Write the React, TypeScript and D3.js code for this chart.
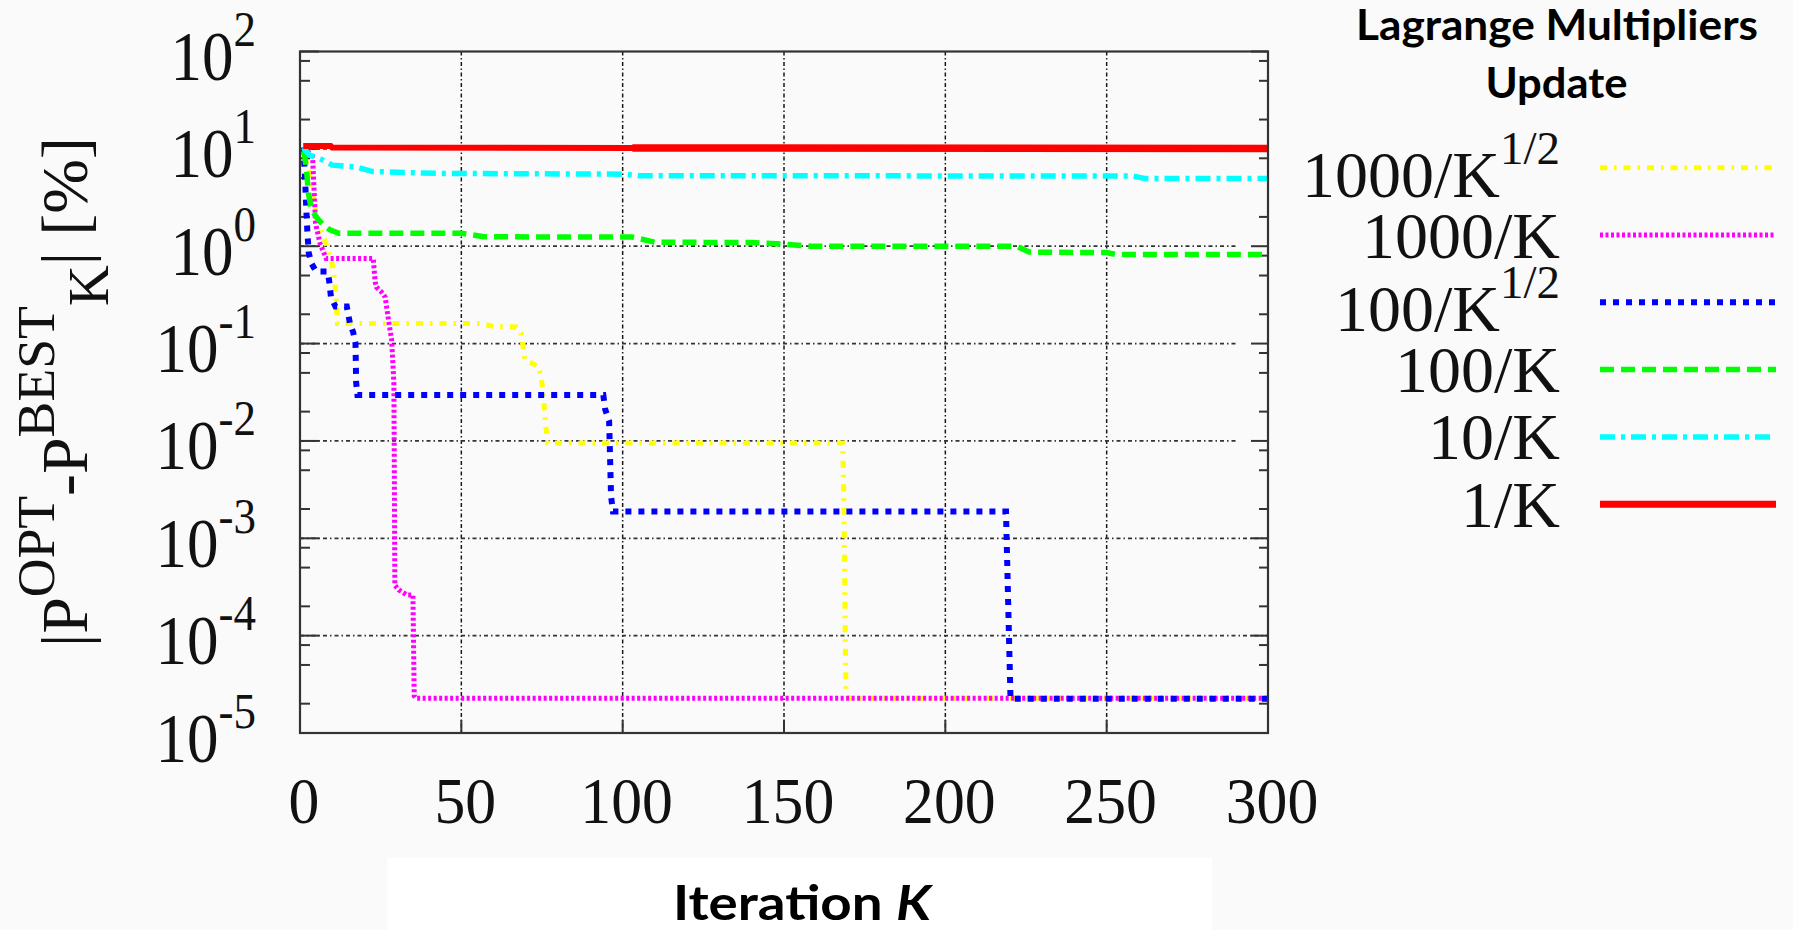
import React from 'react';
import * as d3 from 'd3';

// ---------- data ----------
const kYellow = [1, 3, 5, 6.7, 7.7, 8.8, 10, 10.8, 11.2, 11.6, 56, 60, 67, 68.5, 69.7, 74, 75, 75.5, 76, 76.8, 168.2, 168.6, 169, 169.2, 170, 300];
const pYellow = [10.3, 5.5, 2.2, 1.4, 1.15, 0.9, 0.65, 0.42, 0.28, 0.161, 0.161, 0.15, 0.148, 0.128, 0.068, 0.058, 0.039, 0.027, 0.0157, 0.0095, 0.0095, 0.002, 0.0001, 0.000026, 0.0000227, 0.0000227];

const kMagenta = [1, 3, 3.9, 4.5, 4.8, 6.2, 8.1, 22.7, 23.3, 23.7, 25.2, 26.4, 27.6, 28.4, 29.1, 29.4, 30.6, 33.1, 35.0, 35.4, 35.9, 300];
const pMagenta = [10.3, 9.0, 8.3, 3.0, 1.72, 1.07, 0.75, 0.75, 0.43, 0.38, 0.34, 0.30, 0.16, 0.109, 0.039, 0.00033, 0.000295, 0.000262, 0.000262, 0.000024, 0.0000227, 0.0000227];

const kBlue = [1, 1.5, 2, 2.3, 2.7, 3.5, 5, 8.5, 9, 9.6, 11, 14.5, 15.5, 16.5, 17.2, 17.4, 17.8, 94, 94.6, 95.8, 96.4, 97, 218.8, 219.5, 220.2, 300];
const pBlue = [10.3, 5.6, 2.2, 1.37, 0.86, 0.67, 0.55, 0.55, 0.45, 0.30, 0.24, 0.24, 0.16, 0.13, 0.10, 0.04, 0.0296, 0.0296, 0.021, 0.016, 0.0027, 0.00188, 0.00188, 0.0002, 0.0000225, 0.0000225];

const kGreen = [1, 1.5, 2.1, 2.6, 3.6, 5.7, 7.2, 9.3, 12, 50, 57, 103, 110, 140, 150, 158, 222, 226, 250, 253, 300];
const pGreen = [9.5, 8.3, 5.6, 3.5, 2.35, 1.87, 1.66, 1.47, 1.36, 1.36, 1.25, 1.24, 1.10, 1.09, 1.05, 1.0, 1.0, 0.87, 0.86, 0.82, 0.82];

const kCyan = [1, 3, 7, 10, 17.6, 22.5, 42, 100, 105, 258, 262, 300];
const pCyan = [10.3, 8.6, 7.7, 6.8, 6.5, 5.85, 5.6, 5.5, 5.3, 5.26, 4.95, 4.95];

const kRed = [1, 9.5, 10, 103, 300];
const pRed = [10.7, 10.7, 10.3, 10.2, 10.1];

const xTickValues = [0, 50, 100, 150, 200, 250, 300];
const yDecadeExps = [2, 1, 0, -1, -2, -3, -4, -5];
const minorMultipliers = [2, 5, 8];
const legendTitle = ['Lagrange Multipliers', 'Update'];
const legendMain = ['1000/K', '1000/K', '100/K', '100/K', '10/K', '1/K'];
const legendSup = ['1/2', '', '1/2', '', '', ''];
const xAxisTitle = 'Iteration ';
const xAxisTitleItalic = 'K';

const SERIF = '"Liberation Serif", "Times New Roman", Times, serif';
const SANS = 'Lato, "Open Sans", sans-serif';

type Series = { k: number[]; p: number[]; color: string; width: number; dash: string };

const series: Series[] = [
  { k: kYellow, p: pYellow, color: '#ffff00', width: 5, dash: '7 7 2.5 7' },
  { k: kMagenta, p: pMagenta, color: '#ff00ff', width: 5, dash: '3 2.5' },
  { k: kBlue, p: pBlue, color: '#0000ff', width: 6, dash: '6 7' },
  { k: kGreen, p: pGreen, color: '#00ff00', width: 5.5, dash: '14 7' },
  { k: kCyan, p: pCyan, color: '#00ffff', width: 5.5, dash: '15 6 4 6' },
  { k: kRed, p: pRed, color: '#ff0000', width: 6, dash: '' },
];

export default function App() {
  const L = 300, R = 1268, T = 51.5, B = 733;
  const x = d3.scaleLinear().domain([0, 300]).range([L, R]);
  const y = d3.scaleLog().domain([1e-5, 1e2]).range([B, T]);
  const line = d3.line<[number, number]>().x(d => x(d[0])).y(d => y(d[1]));

  const pts = (s: Series) => s.k.map((k, i) => [k, s.p[i]] as [number, number]);

  const minorVals: number[] = [];
  yDecadeExps.forEach(e => {
    if (e < 2) minorMultipliers.forEach(m => minorVals.push(m * Math.pow(10, e)));
  });

  const shortGridExps = [1, 0, -1, -2];
  const redPts = pts(series[5]);
  const redThick = redPts.filter(d => d[0] >= 103);

  return (
    <svg width={1793} height={930} style={{ position: 'fixed', left: 0, top: 0, background: '#fafafa' }}>
      <rect x={0} y={0} width={1793} height={930} fill="#fafafa" />
      <rect x={387} y={858} width={825} height={72} fill="#ffffff" />

      {/* vertical grid */}
      {xTickValues.filter(v => v > 0 && v < 300).map(v => (
        <line key={'vg' + v} x1={x(v)} x2={x(v)} y1={T} y2={B} stroke="#1a1a1a" strokeWidth={1.5} strokeDasharray="4 2.5 1.5 2.5" />
      ))}
      {/* horizontal grid */}
      {yDecadeExps.filter(e => e < 2 && e > -5).map(e => (
        <line key={'hg' + e} x1={L} x2={shortGridExps.includes(e) ? 1237 : R} y1={y(Math.pow(10, e))} y2={y(Math.pow(10, e))}
          stroke="#333" strokeWidth={1.7} strokeDasharray="4 3 1.5 3" />
      ))}

      {/* y ticks */}
      {yDecadeExps.map(e => {
        const yy = y(Math.pow(10, e));
        return (
          <g key={'yt' + e}>
            <line x1={L} x2={L + 19} y1={yy} y2={yy} stroke="#333" strokeWidth={2} />
            <line x1={R} x2={R - 17} y1={yy} y2={yy} stroke="#333" strokeWidth={2} />
          </g>
        );
      })}
      {minorVals.map((v, i) => (
        <g key={'ym' + i}>
          <line x1={L} x2={L + 10} y1={y(v)} y2={y(v)} stroke="#333" strokeWidth={2} />
          <line x1={R} x2={R - 9} y1={y(v)} y2={y(v)} stroke="#333" strokeWidth={2} />
        </g>
      ))}
      {/* x ticks */}
      {xTickValues.map(v => (
        <line key={'xt' + v} x1={x(v)} x2={x(v)} y1={B} y2={B - 13} stroke="#333" strokeWidth={2} />
      ))}

      {/* series */}
      {series.map((s, i) => (
        <path key={'s' + i} d={line(pts(s)) || ''} fill="none" stroke={s.color} strokeWidth={s.width}
          strokeDasharray={s.dash || undefined} strokeLinejoin="miter" />
      ))}
      <path d={line(redThick) || ''} fill="none" stroke="#ff0000" strokeWidth={7.5} />

      {/* frame */}
      <rect x={L} y={T} width={R - L} height={B - T} fill="none" stroke="#333" strokeWidth={2.2} />

      {/* y tick labels */}
      {yDecadeExps.map(e => {
        const yy = y(Math.pow(10, e));
        return (
          <text key={'yl' + e} transform={`translate(256,${yy + 28.5}) scale(0.9,1)`} textAnchor="end"
            fontFamily={SERIF} fontSize={70} fill="#111">
            10<tspan dy={-34} fontSize={50}>{String(e)}</tspan>
          </text>
        );
      })}

      {/* x tick labels */}
      {xTickValues.map(v => (
        <text key={'xl' + v} transform={`translate(${x(v) + 4},823) scale(0.95,1)`} textAnchor="middle"
          fontFamily={SERIF} fontSize={65} fill="#111">{String(v)}</text>
      ))}

      {/* y axis title */}
      <text transform="translate(87,647) rotate(-90)" fontFamily={SERIF} fontSize={65} fill="#111"
        textLength={510} lengthAdjust="spacingAndGlyphs">
        |P<tspan dy={-33} fontSize={53}>OPT</tspan><tspan dy={33}>-P</tspan><tspan dy={-33} fontSize={53}>BEST</tspan><tspan dy={54} fontSize={56}>K</tspan><tspan dy={-21}>| [%]</tspan>
      </text>

      {/* x axis title */}
      <text x={673} y={920} fontFamily={SANS} fontWeight={700} fontSize={48} fill="#000"
        textLength={258} lengthAdjust="spacingAndGlyphs">
        {xAxisTitle}<tspan fontStyle="italic">{xAxisTitleItalic}</tspan>
      </text>

      {/* legend */}
      <text x={1356} y={40.3} fontFamily={SANS} fontWeight={700} fontSize={42} fill="#000"
        textLength={402} lengthAdjust="spacingAndGlyphs">{legendTitle[0]}</text>
      <text x={1485.5} y={98.2} fontFamily={SANS} fontWeight={700} fontSize={42} fill="#000"
        textLength={142} lengthAdjust="spacingAndGlyphs">{legendTitle[1]}</text>
      {series.map((s, i) => {
        const ly = 167.7 + i * 67.3;
        const hasSup = legendSup[i] !== '';
        return (
          <g key={'lg' + i}>
            <text x={1560} y={ly + (hasSup ? 29 : 22.5)} textAnchor="end" fontFamily={SERIF} fontSize={66} fill="#111">
              {legendMain[i]}{hasSup ? <tspan dy={-33} fontSize={47}>{legendSup[i]}</tspan> : null}
            </text>
            <line x1={1600} x2={1776} y1={ly} y2={ly} stroke={s.color} strokeWidth={i === 5 ? 7 : s.width}
              strokeDasharray={s.dash || undefined} />
          </g>
        );
      })}
    </svg>
  );
}
